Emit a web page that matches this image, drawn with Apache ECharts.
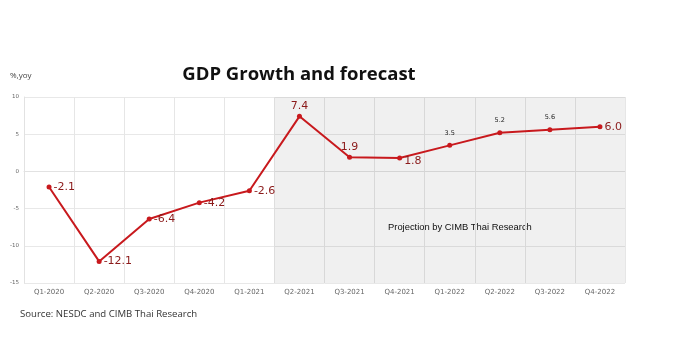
<!DOCTYPE html>
<html>
<head>
<meta charset="utf-8">
<script src="https://cdn.jsdelivr.net/npm/echarts@6/dist/echarts.min.js"></script>
<style>
  html, body { margin: 0; padding: 0; background: #fff; }
  #chart { width: 677px; height: 343px; }
</style>
</head>
<body>
<div id="chart"></div>
<script>
// Quarterly GDP growth (% yoy), actuals then forecast
var quarters = ['Q1-2020', 'Q2-2020', 'Q3-2020', 'Q4-2020', 'Q1-2021', 'Q2-2021',
                'Q3-2021', 'Q4-2021', 'Q1-2022', 'Q2-2022', 'Q3-2022', 'Q4-2022'];
var growth = [-2.1, -12.1, -6.4, -4.2, -2.6, 7.4, 1.9, 1.8, 3.5, 5.2, 5.6, 6.0];
// 1 = quarter falls in the projection window
var projection = [0, 0, 0, 0, 0, 1, 1, 1, 1, 1, 1, 1];
var yTicks = [-15, -10, -5, 0, 5, 10];

// label placement per point
var labelPos = ['right', 'right', 'right', 'right', 'right', 'top',
                'top', 'right', 'top', 'top', 'top', 'right'];
var smallLabel = [false, false, false, false, false, false,
                  false, false, true, true, true, false];

var lineData = growth.map(function (v, i) {
  var lbl = {
    show: true,
    position: labelPos[i],
    distance: smallLabel[i] ? 6 : 2,
    color: smallLabel[i] ? '#222' : '#8b1a1a',
    fontSize: smallLabel[i] ? 6.5 : 11,
    fontFamily: 'DejaVu Sans',
    formatter: function (p) { return p.value.toFixed(1); }
  };
  if (i === 7) { lbl.offset = [0, 3]; }
  return { value: v, label: lbl };
});

var chart = echarts.init(document.getElementById('chart'));
chart.setOption({
  animation: false,
  backgroundColor: '#ffffff',
  title: {
    text: 'GDP Growth and forecast',
    left: 294,
    top: 60,
    textAlign: 'center',
    textStyle: { fontFamily: 'Open Sans', fontWeight: 'bold', fontSize: 18.5, color: '#111' }
  },
  graphic: [
    { type: 'text', left: 10, top: 72,
      style: { text: '%,yoy', fontFamily: 'Open Sans', fontSize: 8, fill: '#444' } },
    { type: 'text', left: 20, top: 309,
      style: { text: 'Source: NESDC and CIMB Thai Research', fontFamily: 'Open Sans', fontSize: 9.6, fill: '#333' } },
    { type: 'text', left: 388, top: 223,
      style: { text: 'Projection by CIMB Thai Research', fontFamily: 'Liberation Sans', fontSize: 9.4, fill: '#111' } }
  ],
  grid: { left: 24, right: 52, top: 97, bottom: 60 },
  xAxis: {
    type: 'category',
    data: quarters,
    boundaryGap: true,
    axisLine: { show: true, lineStyle: { color: '#e2e2e2' } },
    axisTick: { show: false },
    axisLabel: { color: '#666', fontSize: 7, fontFamily: 'DejaVu Sans', margin: 6 },
    splitLine: { show: true, interval: 0, lineStyle: { color: '#e6e6e6', width: 1 } }
  },
  yAxis: [
    {
      type: 'value',
      min: yTicks[0],
      max: yTicks[yTicks.length - 1],
      interval: 5,
      axisLine: { show: true, lineStyle: { color: '#e2e2e2' } },
      axisTick: { show: false },
      axisLabel: { color: '#666', fontSize: 5.5, fontFamily: 'DejaVu Sans', margin: 5 },
      splitLine: { lineStyle: { color: '#e8e8e8', width: 1 } }
    },
    { type: 'value', min: 0, max: 1, show: false }
  ],
  series: [
    {
      type: 'bar',
      yAxisIndex: 1,
      data: projection,
      barWidth: '100%',
      barGap: '-100%',
      silent: true,
      itemStyle: { color: 'rgba(0,0,0,0.058)' },
      z: 1
    },
    {
      type: 'line',
      data: lineData,
      symbol: 'circle',
      symbolSize: 5,
      lineStyle: { color: '#c8191d', width: 2 },
      itemStyle: { color: '#c8191d' },
      z: 3
    }
  ]
});
</script>
</body>
</html>
